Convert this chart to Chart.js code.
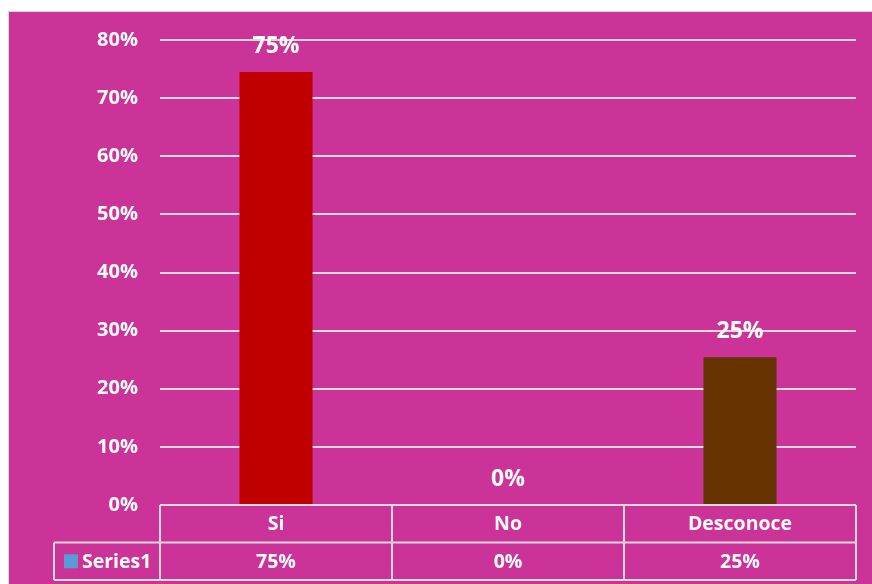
<!DOCTYPE html>
<html>
<head>
<meta charset="utf-8">
<script src="https://cdn.jsdelivr.net/npm/chart.js@4"></script>
<style>
  body { margin: 0; background: #fff; }
  #box {
    position: absolute; left: 8px; top: 11px;
    width: 863px; height: 572px;
    background: #CC3399;
    border-left: 1px solid #D9D9D9;
    border-top: 1px solid #D9D9D9;
  }
</style>
</head>
<body>
<div id="box"><canvas id="chart" width="863" height="572"></canvas></div>
<script>
// data
const categories = ['Si', 'No', 'Desconoce'];
const seriesName = 'Series1';
const series1 = [74.5, 0, 25.4];
const valueLabels = ['75%', '0%', '25%'];
const barColors = ['#C00000', '#CC3399', '#663300'];
const yMax = 80;
const yStep = 10;

const lineCol = '#D9D9D9';
const fontFam = '"Open Sans", Arial, sans-serif';

// data labels above each bar
const labelPlugin = {
  id: 'valueLabels',
  afterDatasetsDraw(chart) {
    const ctx = chart.ctx;
    const meta = chart.getDatasetMeta(0);
    ctx.save();
    ctx.fillStyle = '#fff';
    ctx.font = 'bold 23px ' + fontFam;
    ctx.textAlign = 'center';
    ctx.textBaseline = 'bottom';
    meta.data.forEach((bar, i) => {
      ctx.fillText(valueLabels[i], bar.x, bar.y - 14);
    });
    ctx.restore();
  }
};

// data table under the plot
const tablePlugin = {
  id: 'dataTable',
  afterDraw(chart) {
    const ctx = chart.ctx;
    const area = chart.chartArea;
    const x = chart.scales.x;
    const rowH = 37.5;
    const top = area.bottom;
    const mid = top + rowH;
    const bot = mid + rowH;
    const legendLeft = 45;
    const colW = (area.right - area.left) / categories.length;

    ctx.save();
    ctx.strokeStyle = lineCol;
    ctx.lineWidth = 2;
    ctx.beginPath();
    ctx.moveTo(area.left, top); ctx.lineTo(area.right, top);
    ctx.moveTo(legendLeft, mid); ctx.lineTo(area.right, mid);
    ctx.moveTo(legendLeft, bot); ctx.lineTo(area.right, bot);
    ctx.moveTo(legendLeft, mid); ctx.lineTo(legendLeft, bot);
    for (let i = 0; i <= categories.length; i++) {
      const lx = area.left + colW * i;
      ctx.moveTo(lx, top); ctx.lineTo(lx, bot);
    }
    ctx.stroke();

    ctx.fillStyle = '#fff';
    ctx.font = 'bold 19.5px ' + fontFam;
    ctx.textBaseline = 'middle';
    ctx.textAlign = 'center';
    categories.forEach((c, i) => {
      const cx = x.getPixelForValue(i);
      ctx.fillText(c, cx, (top + mid) / 2 + 1);
      ctx.fillText(valueLabels[i], cx, (mid + bot) / 2 + 1);
    });

    ctx.fillStyle = '#5B9BD5';
    ctx.fillRect(legendLeft + 10, (mid + bot) / 2 - 7, 14, 14);
    ctx.fillStyle = '#fff';
    ctx.textAlign = 'left';
    ctx.fillText(seriesName, legendLeft + 28, (mid + bot) / 2 + 1);
    ctx.restore();
  }
};

new Chart(document.getElementById('chart'), {
  type: 'bar',
  data: {
    labels: categories,
    datasets: [{
      label: seriesName,
      data: series1,
      backgroundColor: barColors,
      categoryPercentage: 1,
      barPercentage: 0.315
    }]
  },
  options: {
    responsive: false,
    animation: false,
    devicePixelRatio: 1,
    layout: { padding: { top: 28, right: 16, bottom: 79, left: 0 } },
    plugins: {
      legend: { display: false },
      tooltip: { enabled: false }
    },
    scales: {
      x: { display: false },
      y: {
        min: 0,
        max: yMax,
        border: { display: false },
        grid: { color: lineCol, lineWidth: 2, drawTicks: true, tickLength: 22, tickColor: 'rgba(0,0,0,0)' },
        afterFit(scale) { scale.width = 151; },
        ticks: {
          stepSize: yStep,
          padding: 0,
          color: '#fff',
          font: { family: fontFam, size: 20, weight: 'bold' },
          callback: v => v + '%'
        }
      }
    }
  },
  plugins: [labelPlugin, tablePlugin]
});
</script>
</body>
</html>
